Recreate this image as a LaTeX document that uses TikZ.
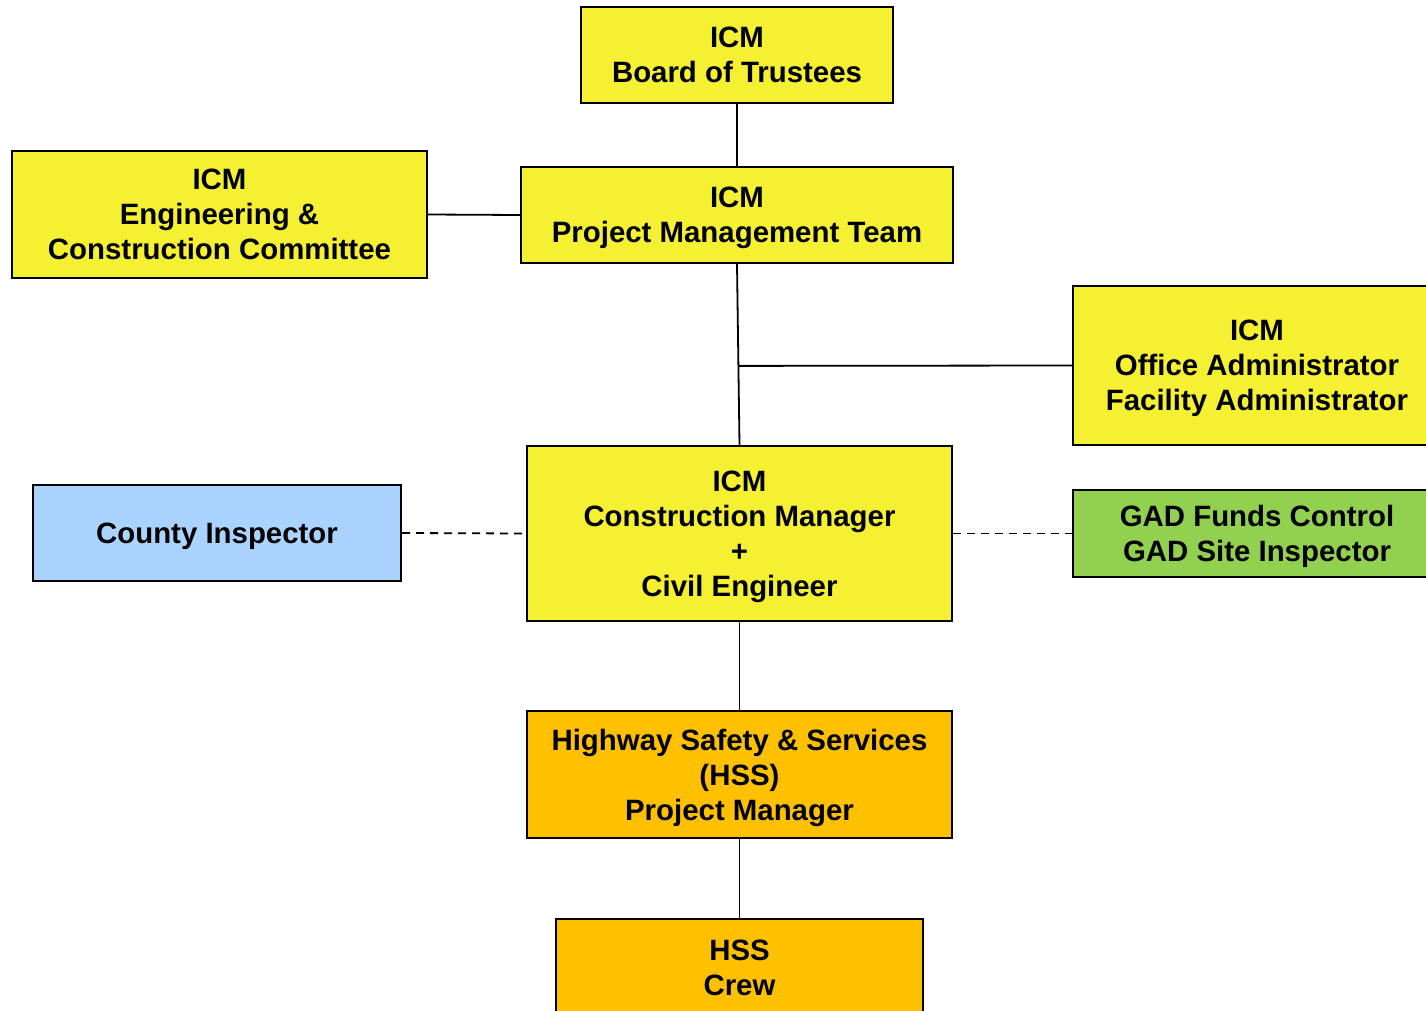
\documentclass[tikz,border=0pt]{standalone}
\usepackage{fontspec}
\setmainfont{Liberation Sans}
\usetikzlibrary{calc}
\definecolor{boxyellow}{RGB}{245,240,50}
\definecolor{boxblue}{RGB}{170,212,255}
\definecolor{boxgreen}{RGB}{146,208,80}
\definecolor{boxorange}{RGB}{255,192,0}
\tikzset{
  orgbox/.style={draw=black, line width=1pt, align=center, inner sep=0pt,
    text depth=-1pt,
    font=\bfseries\fontsize{14.7}{17.5}\selectfont},
  link/.style={draw=black, line width=0.9pt},
  dashlink/.style={draw=black, line width=0.9pt, dash pattern=on 4pt off 3pt},
}
\begin{document}
\begin{tikzpicture}[x=0.5pt,y=-0.5pt]
\useasboundingbox (0,0) rectangle (1426,1011);
\clip (0,0) rectangle (1426,1011);
\fill[white] (0,0) rectangle (1426,1011);
\node[orgbox, fill=boxyellow, minimum width=156pt, minimum height=48pt] (board) at (737,55) {ICM\\Board of Trustees};
\node[orgbox, fill=boxyellow, minimum width=207.5pt, minimum height=63.5pt] (comm) at (219.5,214.5) {ICM\\Engineering \&\\Construction Committee};
\node[orgbox, fill=boxyellow, minimum width=216pt, minimum height=48pt] (pmt) at (737,215) {ICM\\Project Management Team};
\node[orgbox, fill=boxyellow, minimum width=184pt, minimum height=79.5pt] (office) at (1257,365.5) {ICM\\Office Administrator\\Facility Administrator};
\node[orgbox, fill=boxblue, minimum width=184pt, minimum height=48pt] (county) at (217,533) {County Inspector};
\node[orgbox, fill=boxyellow, minimum width=212.5pt, minimum height=87.5pt] (cm) at (739.5,533.5) {ICM\\Construction Manager\\+\\Civil Engineer};
\node[orgbox, fill=boxgreen, minimum width=184pt, minimum height=43.5pt] (gad) at (1257,533.5) {GAD Funds Control\\GAD Site Inspector};
\node[orgbox, fill=boxorange, minimum width=212.5pt, minimum height=63.5pt] (hsspm) at (739.5,774.5) {Highway Safety \& Services\\(HSS)\\Project Manager};
\node[orgbox, fill=boxorange, minimum width=183.5pt, minimum height=48.5pt] (crew) at (739.5,967.5) {HSS\\Crew};
\coordinate (jn) at ($(pmt.south)!0.563!(cm.north)$);
\draw[link] (board.south) -- (pmt.north);
\draw[link] (comm.east) -- (pmt.west);
\draw[link] (pmt.south) -- (cm.north);
\draw[link] (jn) -- (office.west);
\draw[dashlink] (county.east) -- (cm.west);
\draw[dashlink] (cm.east) -- (gad.west);
\draw[link] (cm.south) -- (hsspm.north);
\draw[link] (hsspm.south) -- (crew.north);
\end{tikzpicture}
\end{document}
